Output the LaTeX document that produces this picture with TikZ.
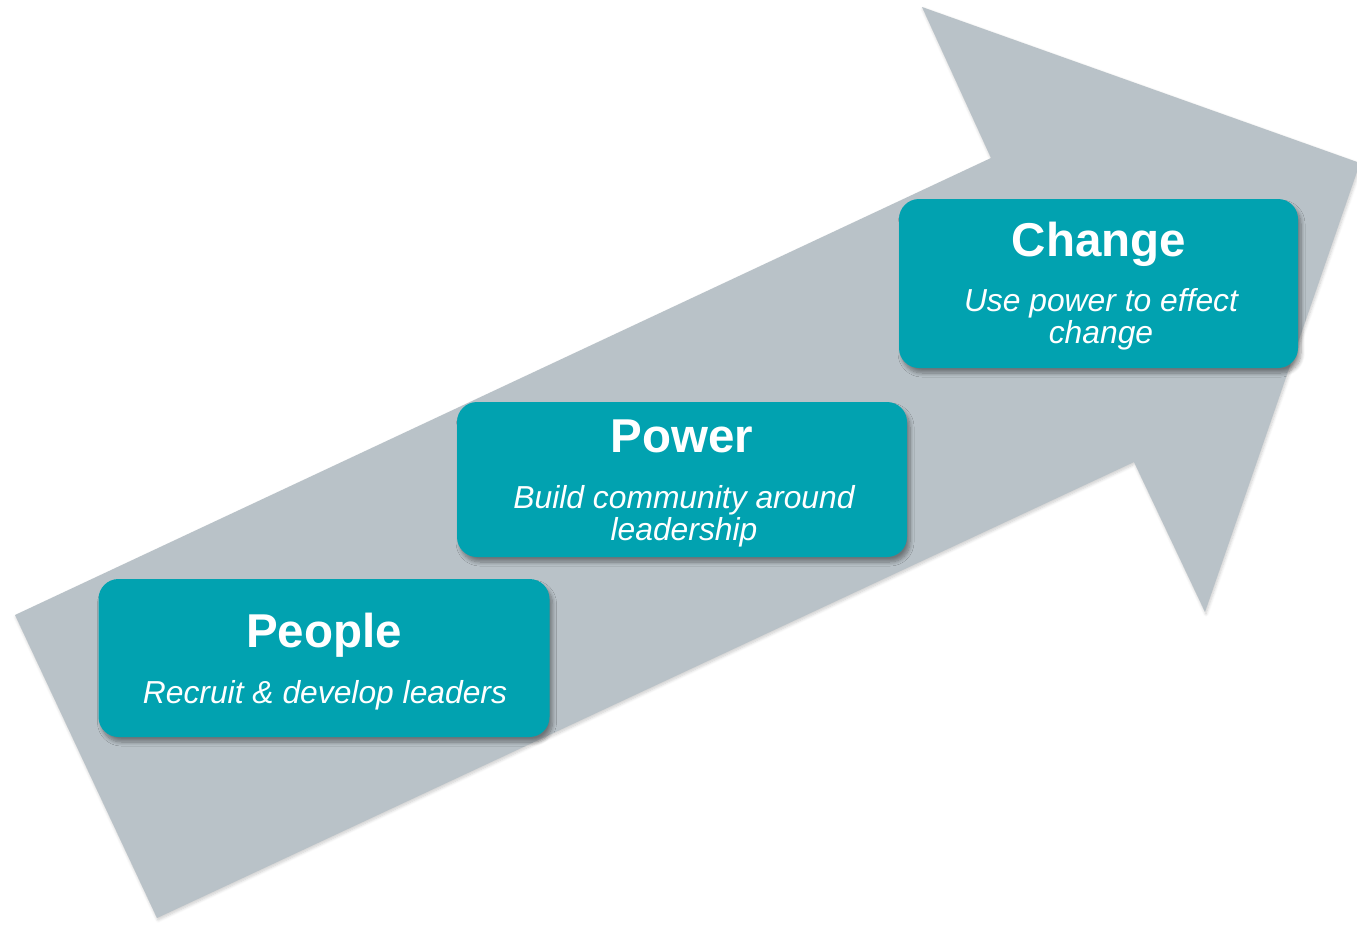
\documentclass[tikz,border=0pt]{standalone}
\usepackage{fontspec}
\setmainfont{Liberation Sans}
\usetikzlibrary{shadows.blur}
\definecolor{teal1}{HTML}{01A2B0}
\definecolor{arrowgrey}{HTML}{B9C2C8}
\tikzset{
  stepbox/.style={draw=none, fill=teal1, rounded corners=20pt, inner sep=0pt,
    blur shadow={shadow xshift=3pt, shadow yshift=-5pt, shadow blur radius=4pt, shadow blur steps=8, shadow opacity=40}},
  titletext/.style={text=white, font=\fontsize{47.5}{47.5}\selectfont\bfseries, anchor=base, inner sep=0pt},
  subtext/.style={text=white, font=\fontsize{31.8}{33}\selectfont\itshape, anchor=base, inner sep=0pt}
}
\begin{document}
\begin{tikzpicture}[x=1pt,y=-1pt]
\useasboundingbox (0,0) rectangle (1357,924);
% big arrow
\fill[arrowgrey, blur shadow={shadow xshift=1pt, shadow yshift=-2pt, shadow blur radius=3pt, shadow blur steps=6, shadow opacity=20}]
  (15,615) -- (991,158) -- (922,7) -- (1360,163) -- (1205,612) -- (1134,462) -- (157,918) -- cycle;
% boxes
\node[stepbox, minimum width=451pt, minimum height=158pt] (people) at (324,658) {};
\node[stepbox, minimum width=450pt, minimum height=155pt] (power) at (682,479.5) {};
\node[stepbox, minimum width=399pt, minimum height=169pt] (change) at (1098.5,283.5) {};
% texts
\node[titletext] (peoplet) at (324,647) {People};
\node[subtext] (peoples) at (325,703) {Recruit \& develop leaders};
\node[titletext] (powert) at (682,452) {Power};
\node[subtext] (powers1) at (684,508) {Build community around};
\node[subtext] (powers2) at (684,540) {leadership};
\node[titletext] (changet) at (1099,256) {Change};
\node[subtext] (changes1) at (1101,311) {Use power to effect};
\node[subtext] (changes2) at (1101,343) {change};
\end{tikzpicture}
\end{document}
